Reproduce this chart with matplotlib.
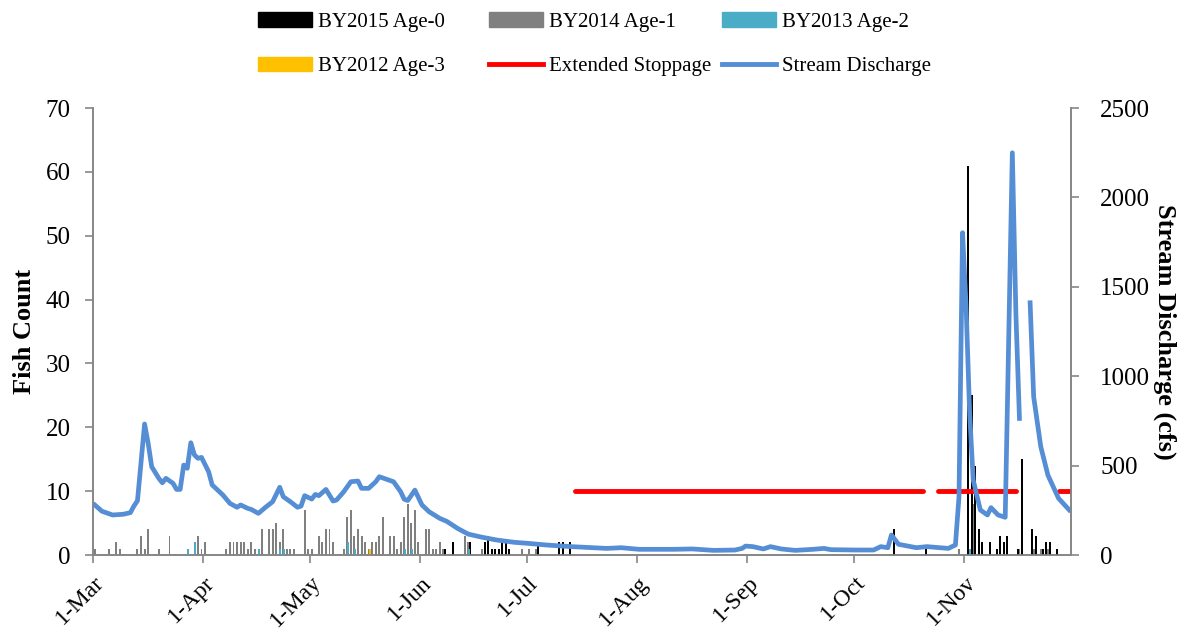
import numpy as np
import pandas as pd
import matplotlib
matplotlib.use('Agg')
import matplotlib.pyplot as plt
import matplotlib.transforms as mtransforms
from matplotlib.patches import Patch
from matplotlib.lines import Line2D

plt.rcParams['font.family'] = ['Liberation Serif', 'DejaVu Serif']

start = pd.Timestamp('2016-03-01')

# daily catch by brood year (day number counted from 1-Mar)
age0_day = [99, 101, 106, 110, 111, 112, 113, 114, 115, 116, 117, 125, 131, 132, 134,
            225, 234, 246, 247, 248, 249, 250, 252, 254, 255, 256, 257, 260, 261,
            264, 265, 267, 268, 269, 271]
age0_n = [1, 2, 2, 2, 3, 1, 1, 1, 2, 2, 1, 2, 2, 2, 2,
          4, 1, 61, 25, 14, 4, 2, 2, 1, 3, 2, 3, 1, 15,
          4, 3, 1, 2, 2, 1]

age1_day = [0, 4, 6, 7, 12, 13, 14, 15, 18, 21, 29, 30, 31, 37, 38, 39, 40, 41, 42,
            43, 44, 45, 47, 49, 50, 51, 52, 53, 54, 55, 56, 59, 60, 61, 63, 64, 65,
            66, 67, 70, 71, 72, 73, 74, 75, 76, 77, 78, 79, 80, 81, 83, 84, 85, 86,
            87, 88, 89, 90, 91, 93, 94, 95, 96, 97, 98, 104, 105, 109, 120, 122, 124,
            243, 247, 260, 264, 266, 268]
age1_n = [1, 1, 2, 1, 1, 3, 1, 4, 1, 3, 3, 1, 2, 1, 2, 2, 2, 2, 2,
          1, 2, 1, 4, 4, 4, 5, 2, 4, 1, 1, 1, 7, 1, 1, 3, 2, 4,
          4, 2, 1, 6, 7, 3, 4, 3, 2, 1, 2, 2, 3, 6, 3, 3, 1, 2,
          6, 8, 5, 7, 2, 4, 4, 1, 1, 2, 1, 3, 2, 1, 1, 1, 1,
          1, 8, 1, 1, 1, 1]

age2_day = [26, 28, 46, 52, 53, 71, 73, 87, 89, 105, 246]
age2_n = [1, 2, 1, 1, 1, 2, 1, 1, 1, 1, 1]

age3_day = [77]
age3_n = [1]

# mean daily discharge (cfs); NaN marks missing record
q_day = [0, 2, 5, 8, 10, 11, 12, 14, 15, 16, 18, 19, 20, 22, 23, 24, 25, 26, 27, 28,
         29, 30, 32, 33, 36, 38, 40, 41, 43, 44, 46, 48, 50, 52, 53, 55, 57, 58, 59,
         61, 62, 63, 65, 67, 68, 70, 72, 74, 75, 77, 79, 80, 82, 84, 86, 87, 88, 90,
         92, 94, 97, 99, 102, 105, 109, 113, 118, 122, 127, 134, 144, 148, 153, 163,
         168, 174, 180, 182, 183, 185, 188, 190, 193, 197, 202, 205, 207, 214, 219,
         221, 223, 224, 226, 231, 234, 240, 242, 243, 244, 245, 246, 247, 249, 251,
         252, 254, 256, 258, 259, 260, 261, 263, 264, 266, 268, 271, 274]
q_cfs = [280, 245, 224, 228, 237, 274, 304, 733, 625, 494, 429, 404, 429, 401, 367, 367,
         503, 485, 628, 560, 541, 546, 466, 392, 336, 289, 267, 280, 261, 255, 233, 267,
         298, 379, 326, 298, 267, 274, 332, 313, 339, 332, 367, 302, 308, 354, 410, 414,
         373, 373, 410, 438, 424, 410, 354, 312, 305, 363, 280, 242, 205, 188, 149, 117,
         99, 84, 71, 65, 56, 47, 37, 41, 32, 32, 34, 26, 28, 37, 50, 47, 34, 47, 34, 26,
         32, 37, 30, 28, 28, 47, 41, 112, 60, 41, 47, 37, 56, 326, 1803, 1389, 793, 419,
         252, 224, 265, 224, 211, 2250, 1352, 764, np.nan, 1411, 885, 606, 447, 317, 252]

# trap stoppage periods, plotted at a fixed height of 10 fish
stop_from = [135, 237, 271]
stop_to = [233, 259, 275]
stop_level = 10

def to_date(days, shift=0.0):
    return start + pd.to_timedelta(np.asarray(days, dtype=float) + 0.5 + shift, unit='D')

fig = plt.figure(figsize=(11.82, 6.32), dpi=100)
ax = fig.add_axes([0.0787, 0.1218, 0.8274, 0.7072])
ax2 = ax.twinx()

bw = 0.55
ax.bar(to_date(age1_day), age1_n, width=bw, color='#808080', zorder=2)
ax.bar(to_date(age0_day, -0.4), age0_n, width=bw, color='black', zorder=3)
ax.bar(to_date(age2_day, 0.2), age2_n, width=bw, color='#4BACC6', zorder=4)
ax.bar(to_date(age3_day, 0.4), age3_n, width=bw, color='#FFC000', zorder=4)

for a, b in zip(stop_from, stop_to):
    ax.plot(to_date([a, b]), [stop_level, stop_level], color='#FF0000', lw=3.5,
            solid_capstyle='round', zorder=5)

ax2.plot(to_date(q_day), q_cfs, color='#558ED5', lw=3.4, solid_joinstyle='round')

grey = '#868686'
ax.set_xlim(start, start + pd.Timedelta(days=275))
ax.set_ylim(0, 70)
ax2.set_ylim(0, 2500)
ax.set_yticks(range(0, 71, 10))
ax2.set_yticks(range(0, 2501, 500))

month_ticks = pd.date_range('2016-03-01', '2016-11-01', freq='MS')
ax.set_xticks(month_ticks)
ax.set_xticklabels([d.strftime('1-%b') for d in month_ticks], rotation=45,
                   ha='right', va='center', rotation_mode='anchor')

for a in (ax, ax2):
    a.spines['top'].set_visible(False)
    for s in ('left', 'right', 'bottom'):
        a.spines[s].set_color(grey)
        a.spines[s].set_linewidth(1.2)
    a.tick_params(colors=grey, labelcolor='black', labelsize=18, length=6,
                  width=1.2, direction='out')
ax.tick_params(axis='y', pad=10)
ax.tick_params(axis='x', pad=8, labelsize=17)
ax2.tick_params(axis='y', pad=15)

# nudge the slanted date labels down and to the right of their ticks
shift = mtransforms.ScaledTranslation(8 / 100, -5 / 100, fig.dpi_scale_trans)
for lab in ax.get_xticklabels():
    lab.set_transform(lab.get_transform() + shift)

ax.set_ylabel('Fish Count', fontsize=19, fontweight='bold', labelpad=7)
ax2.set_ylabel('Stream Discharge (cfs)', fontsize=19, fontweight='bold',
               rotation=270, labelpad=19)

# legend laid out as a 3 x 2 grid
cols = [
    [(Patch(color='black'), 'BY2015 Age-0'), (Patch(color='#FFC000'), 'BY2012 Age-3')],
    [(Patch(color='#808080'), 'BY2014 Age-1'),
     (Line2D([], [], color='#FF0000', lw=3.5), 'Extended Stoppage')],
    [(Patch(color='#4BACC6'), 'BY2013 Age-2'),
     (Line2D([], [], color='#558ED5', lw=3.5), 'Stream Discharge')],
]
for x0, col in zip([0.2183, 0.4137, 0.6105], cols):
    fig.legend([h for h, _ in col], [t for _, t in col], loc='upper left',
               bbox_to_anchor=(x0, 0.9810), frameon=False, fontsize=15,
               handlelength=2.6, handletextpad=0.3, labelspacing=1.2,
               borderpad=0, borderaxespad=0)

fig.savefig('out.png', dpi=100)
